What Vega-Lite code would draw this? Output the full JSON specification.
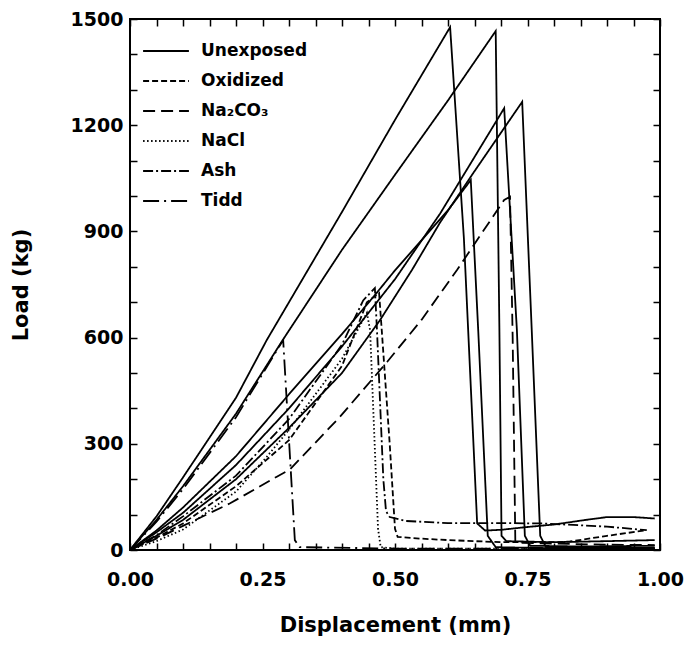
{
  "$schema": "https://vega.github.io/schema/vega-lite/v6.json",
  "width": 530,
  "height": 531,
  "autosize": "none",
  "padding": {"left": 130, "top": 19, "right": 24, "bottom": 95},
  "background": "white",
  "config": {
    "view": {"stroke": "black", "strokeWidth": 2},
    "font": "DejaVu Sans"
  },
  "data": {"values": [
    {"s":"Unexposed","c":"A","i":0,"x":0,"y":0},
    {"s":"Unexposed","c":"A","i":1,"x":0.05,"y":95},
    {"s":"Unexposed","c":"A","i":2,"x":0.1,"y":205},
    {"s":"Unexposed","c":"A","i":3,"x":0.2,"y":430},
    {"s":"Unexposed","c":"A","i":4,"x":0.258,"y":593},
    {"s":"Unexposed","c":"A","i":5,"x":0.3,"y":700},
    {"s":"Unexposed","c":"A","i":6,"x":0.4,"y":955},
    {"s":"Unexposed","c":"A","i":7,"x":0.5,"y":1215},
    {"s":"Unexposed","c":"A","i":8,"x":0.604,"y":1477},
    {"s":"Unexposed","c":"A","i":9,"x":0.63,"y":880},
    {"s":"Unexposed","c":"A","i":10,"x":0.655,"y":75},
    {"s":"Unexposed","c":"A","i":11,"x":0.67,"y":55},
    {"s":"Unexposed","c":"A","i":12,"x":0.7,"y":57},
    {"s":"Unexposed","c":"A","i":13,"x":0.75,"y":65},
    {"s":"Unexposed","c":"A","i":14,"x":0.8,"y":72},
    {"s":"Unexposed","c":"A","i":15,"x":0.86,"y":85},
    {"s":"Unexposed","c":"A","i":16,"x":0.9,"y":93},
    {"s":"Unexposed","c":"A","i":17,"x":0.95,"y":93},
    {"s":"Unexposed","c":"A","i":18,"x":0.99,"y":89},

    {"s":"Unexposed","c":"B","i":0,"x":0,"y":0},
    {"s":"Unexposed","c":"B","i":1,"x":0.05,"y":85},
    {"s":"Unexposed","c":"B","i":2,"x":0.1,"y":180},
    {"s":"Unexposed","c":"B","i":3,"x":0.2,"y":385},
    {"s":"Unexposed","c":"B","i":4,"x":0.289,"y":595},
    {"s":"Unexposed","c":"B","i":5,"x":0.4,"y":848},
    {"s":"Unexposed","c":"B","i":6,"x":0.5,"y":1060},
    {"s":"Unexposed","c":"B","i":7,"x":0.6,"y":1270},
    {"s":"Unexposed","c":"B","i":8,"x":0.69,"y":1466},
    {"s":"Unexposed","c":"B","i":9,"x":0.697,"y":620},
    {"s":"Unexposed","c":"B","i":10,"x":0.701,"y":40},
    {"s":"Unexposed","c":"B","i":11,"x":0.71,"y":25},
    {"s":"Unexposed","c":"B","i":12,"x":0.8,"y":22},
    {"s":"Unexposed","c":"B","i":13,"x":0.9,"y":25},
    {"s":"Unexposed","c":"B","i":14,"x":0.99,"y":28},

    {"s":"Unexposed","c":"E","i":0,"x":0,"y":0},
    {"s":"Unexposed","c":"E","i":1,"x":0.05,"y":55},
    {"s":"Unexposed","c":"E","i":2,"x":0.1,"y":120},
    {"s":"Unexposed","c":"E","i":3,"x":0.2,"y":265},
    {"s":"Unexposed","c":"E","i":4,"x":0.3,"y":440},
    {"s":"Unexposed","c":"E","i":5,"x":0.4,"y":610},
    {"s":"Unexposed","c":"E","i":6,"x":0.462,"y":720},
    {"s":"Unexposed","c":"E","i":7,"x":0.5,"y":790},
    {"s":"Unexposed","c":"E","i":8,"x":0.6,"y":960},
    {"s":"Unexposed","c":"E","i":9,"x":0.643,"y":1045},
    {"s":"Unexposed","c":"E","i":10,"x":0.657,"y":621},
    {"s":"Unexposed","c":"E","i":11,"x":0.675,"y":40},
    {"s":"Unexposed","c":"E","i":12,"x":0.69,"y":8},
    {"s":"Unexposed","c":"E","i":13,"x":0.8,"y":5},
    {"s":"Unexposed","c":"E","i":14,"x":0.99,"y":5},

    {"s":"Unexposed","c":"C","i":0,"x":0,"y":0},
    {"s":"Unexposed","c":"C","i":1,"x":0.05,"y":50},
    {"s":"Unexposed","c":"C","i":2,"x":0.1,"y":105},
    {"s":"Unexposed","c":"C","i":3,"x":0.2,"y":240},
    {"s":"Unexposed","c":"C","i":4,"x":0.3,"y":400},
    {"s":"Unexposed","c":"C","i":5,"x":0.4,"y":575},
    {"s":"Unexposed","c":"C","i":6,"x":0.5,"y":765},
    {"s":"Unexposed","c":"C","i":7,"x":0.585,"y":950},
    {"s":"Unexposed","c":"C","i":8,"x":0.65,"y":1110},
    {"s":"Unexposed","c":"C","i":9,"x":0.706,"y":1248},
    {"s":"Unexposed","c":"C","i":10,"x":0.73,"y":621},
    {"s":"Unexposed","c":"C","i":11,"x":0.745,"y":40},
    {"s":"Unexposed","c":"C","i":12,"x":0.755,"y":12},
    {"s":"Unexposed","c":"C","i":13,"x":0.85,"y":10},
    {"s":"Unexposed","c":"C","i":14,"x":0.99,"y":12},

    {"s":"Unexposed","c":"D","i":0,"x":0,"y":0},
    {"s":"Unexposed","c":"D","i":1,"x":0.05,"y":40},
    {"s":"Unexposed","c":"D","i":2,"x":0.1,"y":85},
    {"s":"Unexposed","c":"D","i":3,"x":0.2,"y":200},
    {"s":"Unexposed","c":"D","i":4,"x":0.3,"y":345},
    {"s":"Unexposed","c":"D","i":5,"x":0.4,"y":500},
    {"s":"Unexposed","c":"D","i":6,"x":0.472,"y":650},
    {"s":"Unexposed","c":"D","i":7,"x":0.532,"y":791},
    {"s":"Unexposed","c":"D","i":8,"x":0.585,"y":925},
    {"s":"Unexposed","c":"D","i":9,"x":0.65,"y":1070},
    {"s":"Unexposed","c":"D","i":10,"x":0.74,"y":1266},
    {"s":"Unexposed","c":"D","i":11,"x":0.758,"y":621},
    {"s":"Unexposed","c":"D","i":12,"x":0.774,"y":40},
    {"s":"Unexposed","c":"D","i":13,"x":0.785,"y":8},
    {"s":"Unexposed","c":"D","i":14,"x":0.9,"y":6},
    {"s":"Unexposed","c":"D","i":15,"x":0.99,"y":6},

    {"s":"Oxidized","c":"Ox","i":0,"x":0,"y":0},
    {"s":"Oxidized","c":"Ox","i":1,"x":0.05,"y":35},
    {"s":"Oxidized","c":"Ox","i":2,"x":0.1,"y":75},
    {"s":"Oxidized","c":"Ox","i":3,"x":0.2,"y":180},
    {"s":"Oxidized","c":"Ox","i":4,"x":0.3,"y":310},
    {"s":"Oxidized","c":"Ox","i":5,"x":0.4,"y":520},
    {"s":"Oxidized","c":"Ox","i":6,"x":0.447,"y":700},
    {"s":"Oxidized","c":"Ox","i":7,"x":0.47,"y":726},
    {"s":"Oxidized","c":"Ox","i":8,"x":0.475,"y":621},
    {"s":"Oxidized","c":"Ox","i":9,"x":0.49,"y":300},
    {"s":"Oxidized","c":"Ox","i":10,"x":0.5,"y":60},
    {"s":"Oxidized","c":"Ox","i":11,"x":0.505,"y":37},
    {"s":"Oxidized","c":"Ox","i":12,"x":0.55,"y":32},
    {"s":"Oxidized","c":"Ox","i":13,"x":0.6,"y":28},
    {"s":"Oxidized","c":"Ox","i":14,"x":0.7,"y":22},
    {"s":"Oxidized","c":"Ox","i":15,"x":0.8,"y":22},
    {"s":"Oxidized","c":"Ox","i":16,"x":0.83,"y":24},
    {"s":"Oxidized","c":"Ox","i":17,"x":0.9,"y":40},
    {"s":"Oxidized","c":"Ox","i":18,"x":0.975,"y":56},

    {"s":"Na₂CO₃","c":"N","i":0,"x":0,"y":0},
    {"s":"Na₂CO₃","c":"N","i":1,"x":0.057,"y":37},
    {"s":"Na₂CO₃","c":"N","i":2,"x":0.1,"y":68},
    {"s":"Na₂CO₃","c":"N","i":3,"x":0.189,"y":132},
    {"s":"Na₂CO₃","c":"N","i":4,"x":0.277,"y":207},
    {"s":"Na₂CO₃","c":"N","i":5,"x":0.302,"y":228},
    {"s":"Na₂CO₃","c":"N","i":6,"x":0.396,"y":376},
    {"s":"Na₂CO₃","c":"N","i":7,"x":0.485,"y":531},
    {"s":"Na₂CO₃","c":"N","i":8,"x":0.55,"y":650},
    {"s":"Na₂CO₃","c":"N","i":9,"x":0.617,"y":791},
    {"s":"Na₂CO₃","c":"N","i":10,"x":0.706,"y":989},
    {"s":"Na₂CO₃","c":"N","i":11,"x":0.717,"y":998},
    {"s":"Na₂CO₃","c":"N","i":12,"x":0.722,"y":600},
    {"s":"Na₂CO₃","c":"N","i":13,"x":0.727,"y":25},
    {"s":"Na₂CO₃","c":"N","i":14,"x":0.74,"y":20},
    {"s":"Na₂CO₃","c":"N","i":15,"x":0.8,"y":18},
    {"s":"Na₂CO₃","c":"N","i":16,"x":0.9,"y":15},
    {"s":"Na₂CO₃","c":"N","i":17,"x":0.99,"y":14},

    {"s":"NaCl","c":"Cl","i":0,"x":0,"y":0},
    {"s":"NaCl","c":"Cl","i":1,"x":0.05,"y":25},
    {"s":"NaCl","c":"Cl","i":2,"x":0.1,"y":58},
    {"s":"NaCl","c":"Cl","i":3,"x":0.2,"y":165},
    {"s":"NaCl","c":"Cl","i":4,"x":0.258,"y":263},
    {"s":"NaCl","c":"Cl","i":5,"x":0.3,"y":340},
    {"s":"NaCl","c":"Cl","i":6,"x":0.4,"y":540},
    {"s":"NaCl","c":"Cl","i":7,"x":0.447,"y":670},
    {"s":"NaCl","c":"Cl","i":8,"x":0.453,"y":621},
    {"s":"NaCl","c":"Cl","i":9,"x":0.468,"y":60},
    {"s":"NaCl","c":"Cl","i":10,"x":0.473,"y":8},
    {"s":"NaCl","c":"Cl","i":11,"x":0.5,"y":4},
    {"s":"NaCl","c":"Cl","i":12,"x":0.99,"y":4},

    {"s":"Ash","c":"Ash","i":0,"x":0,"y":0},
    {"s":"Ash","c":"Ash","i":1,"x":0.05,"y":42},
    {"s":"Ash","c":"Ash","i":2,"x":0.1,"y":95},
    {"s":"Ash","c":"Ash","i":3,"x":0.2,"y":210},
    {"s":"Ash","c":"Ash","i":4,"x":0.3,"y":370},
    {"s":"Ash","c":"Ash","i":5,"x":0.4,"y":580},
    {"s":"Ash","c":"Ash","i":6,"x":0.44,"y":705},
    {"s":"Ash","c":"Ash","i":7,"x":0.462,"y":740},
    {"s":"Ash","c":"Ash","i":8,"x":0.466,"y":621},
    {"s":"Ash","c":"Ash","i":9,"x":0.478,"y":200},
    {"s":"Ash","c":"Ash","i":10,"x":0.483,"y":110},
    {"s":"Ash","c":"Ash","i":11,"x":0.49,"y":93},
    {"s":"Ash","c":"Ash","i":12,"x":0.52,"y":82},
    {"s":"Ash","c":"Ash","i":13,"x":0.6,"y":76},
    {"s":"Ash","c":"Ash","i":14,"x":0.7,"y":76},
    {"s":"Ash","c":"Ash","i":15,"x":0.78,"y":75},
    {"s":"Ash","c":"Ash","i":16,"x":0.9,"y":66},
    {"s":"Ash","c":"Ash","i":17,"x":0.975,"y":56},

    {"s":"Tidd","c":"T","i":0,"x":0,"y":0},
    {"s":"Tidd","c":"T","i":1,"x":0.05,"y":80},
    {"s":"Tidd","c":"T","i":2,"x":0.1,"y":172},
    {"s":"Tidd","c":"T","i":3,"x":0.2,"y":375},
    {"s":"Tidd","c":"T","i":4,"x":0.289,"y":593},
    {"s":"Tidd","c":"T","i":5,"x":0.311,"y":28},
    {"s":"Tidd","c":"T","i":6,"x":0.32,"y":8},
    {"s":"Tidd","c":"T","i":7,"x":0.5,"y":4},
    {"s":"Tidd","c":"T","i":8,"x":0.99,"y":4}
  ]},
  "layer": [
    {
      "mark": {"type": "line", "color": "black", "strokeWidth": 1.8},
      "encoding": {
        "x": {"field": "x", "type": "quantitative",
          "scale": {"domain": [0, 1], "nice": false, "zero": false},
          "axis": {"orient": "bottom", "title": "Displacement (mm)",
            "values": [0,0.05,0.1,0.15,0.2,0.25,0.3,0.35,0.4,0.45,0.5,0.55,0.6,0.65,0.7,0.75,0.8,0.85,0.9,0.95,1],
            "format": ".2f",
            "labelExpr": "abs(datum.value*4 - round(datum.value*4)) < 0.001 ? datum.label : ''",
            "tickSize": -7,
            "tickColor": "black", "tickWidth": 1.5, "domain": false, "grid": false,
            "labelFont": "DejaVu Sans", "labelFontWeight": "bold", "labelFontSize": 19, "labelColor": "black",
            "labelPadding": 27, "labelFlush": false,
            "titleFont": "DejaVu Sans", "titleFontWeight": "bold", "titleFontSize": 21, "titleColor": "black", "titlePadding": 25}},
        "y": {"field": "y", "type": "quantitative",
          "scale": {"domain": [0, 1500], "nice": false},
          "axis": {"orient": "left", "title": "Load (kg)",
            "values": [0,100,200,300,400,500,600,700,800,900,1000,1100,1200,1300,1400,1500],
            "format": "d",
            "labelExpr": "datum.value % 300 == 0 ? datum.label : ''",
            "tickSize": -7,
            "tickColor": "black", "tickWidth": 1.5, "domain": false, "grid": false,
            "labelFont": "DejaVu Sans", "labelFontWeight": "bold", "labelFontSize": 19, "labelColor": "black",
            "labelPadding": 14, "labelFlush": false,
            "titleFont": "DejaVu Sans", "titleFontWeight": "bold", "titleFontSize": 21, "titleColor": "black", "titlePadding": 39}},
        "detail": {"field": "c", "type": "nominal"},
        "order": {"field": "i", "type": "quantitative"},
        "strokeDash": {"field": "s", "type": "nominal",
          "scale": {"domain": ["Unexposed", "Oxidized", "Na₂CO₃", "NaCl", "Ash", "Tidd"],
            "range": [[1, 0], [6, 3], [12, 6], [1.5, 2.5], [10, 3, 2, 3], [16, 5, 2, 5]]},
          "legend": {"orient": "none", "legendX": 12, "legendY": 19, "title": null,
            "symbolType": "stroke", "symbolSize": 2100, "symbolStrokeWidth": 1.8, "symbolStrokeColor": "black",
            "labelFont": "DejaVu Sans", "labelFontWeight": "bold", "labelFontSize": 17, "labelColor": "black",
            "labelOffset": 11, "clipHeight": 26, "rowPadding": 4}}
      }
    },
    {
      "mark": {"type": "line", "opacity": 0},
      "encoding": {
        "x": {"field": "x", "type": "quantitative",
          "axis": {"orient": "top", "title": null, "labels": false, "domain": false, "grid": false,
            "values": [0,0.05,0.1,0.15,0.2,0.25,0.3,0.35,0.4,0.45,0.5,0.55,0.6,0.65,0.7,0.75,0.8,0.85,0.9,0.95,1],
            "tickSize": -7,
            "tickColor": "black", "tickWidth": 1.5}},
        "y": {"field": "y", "type": "quantitative",
          "axis": {"orient": "right", "title": null, "labels": false, "domain": false, "grid": false,
            "values": [0,100,200,300,400,500,600,700,800,900,1000,1100,1200,1300,1400,1500],
            "tickSize": -7,
            "tickColor": "black", "tickWidth": 1.5}},
        "detail": {"field": "c", "type": "nominal"}
      }
    }
  ],
  "resolve": {"axis": {"x": "independent", "y": "independent"}}
}
